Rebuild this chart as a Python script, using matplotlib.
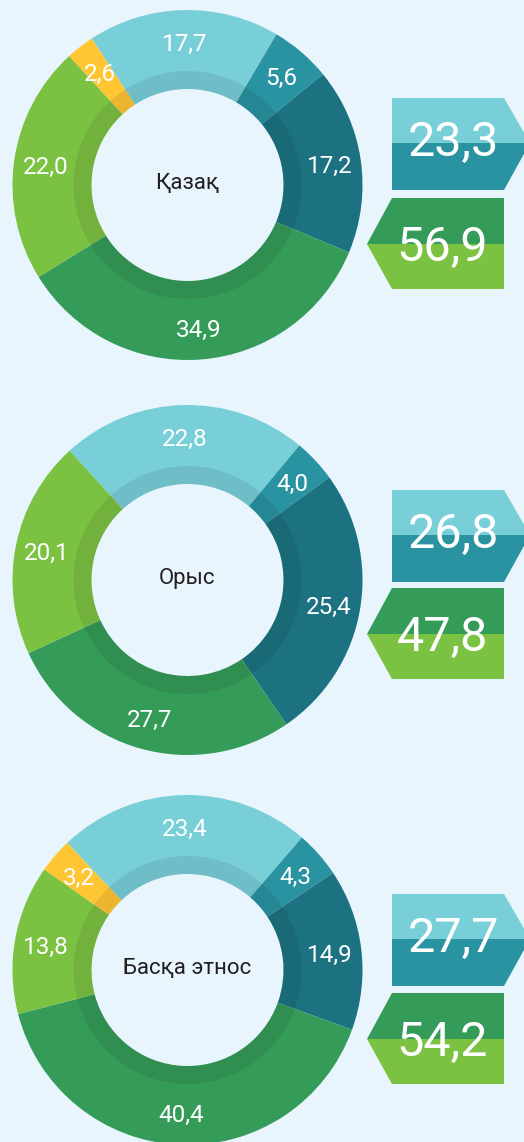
import matplotlib
matplotlib.use("Agg")
import matplotlib.pyplot as plt
from matplotlib.patches import Polygon, Wedge

plt.rcParams['font.family'] = ['Roboto', 'DejaVu Sans']

# shares per group, clockwise starting from the light-blue slice
groups = ['Қазақ', 'Орыс', 'Басқа этнос']
cyan_vals = [17.7, 22.8, 23.4]
teal_vals = [5.6, 4.0, 4.3]
dark_vals = [17.2, 25.4, 14.9]
green_vals = [34.9, 27.7, 40.4]
light_vals = [22.0, 20.1, 13.8]
yellow_vals = [2.6, 0.0, 3.2]
upper_totals = [23.3, 26.8, 27.7]
lower_totals = [56.9, 47.8, 54.2]

colors = ['#79cfd8', '#2a93a1', '#1d7282', '#359b58', '#7bc142', '#ffc533']
bg = '#e8f5fc'

W, H = 524, 1142
fig = plt.figure(figsize=(W / 100, H / 100), dpi=100)
fig.patch.set_facecolor(bg)
ax = fig.add_axes([0, 0, 1, 1])
ax.set_facecolor(bg)

# layout in image pixels (y measured from top)
cx = 187.5
centers_y = [185, 580, 970]
split_top = [143, 535, 939]
split_bot = [244, 634, 1039]
r_out, r_in = 175, 96


def fmt(p):
    return '' if p < 0.05 else f'{p:.1f}'.replace('.', ',')


def Y(y):
    return H - y


for i in range(3):
    vals = [cyan_vals[i], teal_vals[i], dark_vals[i],
            green_vals[i], light_vals[i], yellow_vals[i]]
    cy = Y(centers_y[i])
    start = 90 + cyan_vals[i] * 1.8 + 1.3
    wedges, texts, autotexts = ax.pie(
        vals, colors=colors, startangle=start, counterclock=False,
        radius=r_out, center=(cx, cy),
        wedgeprops=dict(width=r_out - r_in, linewidth=0),
        autopct=fmt, pctdistance=0.82,
        textprops=dict(color='white', fontsize=17.5))
    for t in autotexts:
        t.set_va('center_baseline')
    # darker inner band
    ax.add_patch(Wedge((cx, cy), r_in + 18, 0, 360, width=18,
                       facecolor='black', alpha=0.08, lw=0, zorder=1.5))
    ax.text(cx, cy + 4, groups[i], ha='center', va='center_baseline',
            fontsize=16, color='#231f20')

    # right-hand arrow boxes
    s = split_top[i]
    ax.add_patch(Polygon([(392, Y(s - 45)), (504, Y(s - 45)), (530, Y(s)), (392, Y(s))],
                         closed=True, facecolor=colors[0], lw=0))
    ax.add_patch(Polygon([(392, Y(s)), (530, Y(s)), (504, Y(s + 47)), (392, Y(s + 47))],
                         closed=True, facecolor=colors[1], lw=0))
    ax.text(453, Y(s + 12.5), f'{upper_totals[i]:.1f}'.replace('.', ','),
            ha='center', va='baseline', fontsize=35, color='white')
    b = split_bot[i]
    ax.add_patch(Polygon([(392, Y(b - 46)), (504, Y(b - 46)), (504, Y(b)), (367, Y(b))],
                         closed=True, facecolor=colors[3], lw=0))
    ax.add_patch(Polygon([(367, Y(b)), (504, Y(b)), (504, Y(b + 45)), (392, Y(b + 45))],
                         closed=True, facecolor=colors[4], lw=0))
    ax.text(442, Y(b + 16.5), f'{lower_totals[i]:.1f}'.replace('.', ','),
            ha='center', va='baseline', fontsize=35, color='white')

ax.set_xlim(0, W)
ax.set_ylim(0, H)
ax.set_aspect('equal')
ax.axis('off')

fig.savefig('out.png', dpi=100, facecolor=bg)
